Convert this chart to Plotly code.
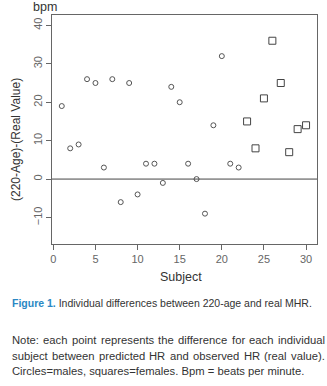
import plotly.graph_objects as go

# Data
male_subject = list(range(1, 23))
male_diff = [19, 8, 9, 26, 25, 3, 26, -6, 25, -4, 4, 4, -1, 24, 20, 4, 0, -9, 14, 32, 4, 3]
female_subject = list(range(23, 31))
female_diff = [15, 8, 21, 36, 25, 7, 13, 14]
x_ticks = [0, 5, 10, 15, 20, 25, 30]
y_ticks = [-10, 0, 10, 20, 30, 40]

caption_label = "Figure 1."
caption_text = "Individual differences between 220-age and real MHR."
note_lines = [
    "Note: each point represents the difference for each individual",
    "subject between predicted HR and observed HR (real value).",
    "Circles=males, squares=females. Bpm = beats per minute.",
]

W, H = 327, 386
L, R, T, B = 52, 10, 15, 142
pw, ph = W - L - R, H - T - B


def px(x):
    return (x - L) / pw


def py(y):
    return (H - B - y) / ph


# Arial / Liberation Sans advance widths (per 1000 em)
AW = {' ': 278, '(': 333, ')': 333, '-': 333, '.': 278, ',': 278, ':': 278, '=': 584}
AW.update({d: 556 for d in "0123456789"})
AW.update(dict(zip("ABCDEFGHIJKLMNOPQRSTUVWXYZ",
                   [667, 667, 722, 722, 667, 611, 778, 722, 278, 500, 667, 556, 833, 722, 778,
                    667, 778, 722, 667, 611, 722, 667, 944, 667, 667, 611])))
AW.update(dict(zip("abcdefghijklmnopqrstuvwxyz",
                   [556, 556, 500, 556, 556, 278, 556, 556, 222, 222, 500, 222, 833, 556, 556,
                    556, 556, 333, 500, 278, 556, 500, 722, 500, 500, 500])))
BOLD_LABEL_EM = 4.25  # approx. width of bold "Figure 1." in em


def tw(s, size):
    return sum(AW.get(c, 556) for c in s) * size / 1000.0


FONT = "Liberation Sans, Arial, sans-serif"
TXT = "#333333"
AX = "#666666"
NOTE_L, NOTE_R = 11, 324
CAP_R = 312

note_size = min(12.0, min((NOTE_R - NOTE_L) / tw(l, 1.0) for l in note_lines[:2]))
note_size = round(note_size * 4) / 4 - 0.25
cap_size = (CAP_R - NOTE_L) / (BOLD_LABEL_EM + tw(" " + caption_text, 1.0))
cap_size = round(cap_size * 4) / 4

fig = go.Figure()
fig.add_trace(go.Scatter(x=male_subject, y=male_diff, mode="markers",
                         marker=dict(symbol="circle-open", size=5, color="#555555", line=dict(width=1)),
                         name="Males", showlegend=False, hoverinfo="skip"))
fig.add_trace(go.Scatter(x=female_subject, y=female_diff, mode="markers",
                         marker=dict(symbol="square-open", size=7, color="#444444", line=dict(width=1)),
                         name="Females", showlegend=False, hoverinfo="skip"))

fig.add_shape(type="line", xref="paper", yref="y", x0=0, x1=1, y0=0, y1=0,
              line=dict(color="#444444", width=1))

fig.update_xaxes(range=[-0.16, 31.3], tickvals=x_ticks, showgrid=False, zeroline=False,
                 showline=True, mirror=True, linecolor=AX, linewidth=1,
                 ticks="outside", ticklen=5, tickcolor=AX,
                 tickfont=dict(family=FONT, size=11, color="#666666"))
fig.update_yaxes(range=[-16.9, 42.7], tickvals=y_ticks, showgrid=False, zeroline=False,
                 showline=True, mirror=True, linecolor=AX, linewidth=1,
                 ticks="outside", ticklen=5, tickcolor=AX, tickangle=-90,
                 tickfont=dict(family=FONT, size=11, color="#666666"))

ann = []


def add(text, x, y, size, xa="center", ya="middle", angle=0, color=TXT):
    ann.append(dict(text=text, x=px(x), y=py(y), xref="paper", yref="paper", showarrow=False,
                    xanchor=xa, yanchor=ya, textangle=angle, borderpad=0,
                    font=dict(family=FONT, size=size, color=color)))


add("bpm", 45, 7, 12.5)
add("(220-Age)-(Real Value)", 16, 140, 12, angle=-90)
add("Subject", 181, 277, 12.5)
add("<span style='color:#2a88c4'><b>" + caption_label + "</b></span> " + caption_text,
    NOTE_L, 303, cap_size, xa="left")

line_y = [340, 355.5, 370.5]
for i, line in enumerate(note_lines):
    if i < 2:
        words = line.split(" ")
        widths = [tw(w, note_size) for w in words]
        gap = (NOTE_R - NOTE_L - sum(widths)) / (len(words) - 1)
        x = NOTE_L
        for w, wd in zip(words, widths):
            add(w, x, line_y[i], note_size, xa="left")
            x += wd + gap
    else:
        add(line, NOTE_L, line_y[i], note_size, xa="left")

fig.update_layout(width=W, height=H, margin=dict(l=L, r=R, t=T, b=B),
                  plot_bgcolor="white", paper_bgcolor="white", annotations=ann,
                  hovermode=False)

fig.write_html("out.html", config={"displayModeBar": False, "staticPlot": True},
               post_script="document.body.style.margin='0';")
